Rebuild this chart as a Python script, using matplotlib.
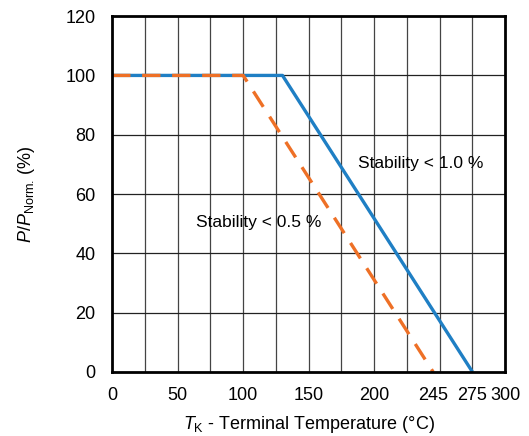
import matplotlib.pyplot as plt

plt.rcParams['font.family'] = ['Liberation Sans', 'DejaVu Sans']
plt.rcParams['mathtext.fontset'] = 'custom'
plt.rcParams['mathtext.rm'] = 'Liberation Sans'
plt.rcParams['mathtext.it'] = 'Liberation Sans:italic'

# derating curves
temp_10 = [0, 130, 275]
power_10 = [100, 100, 0]
temp_05 = [0, 100, 245]
power_05 = [100, 100, 0]

xticks = [0, 50, 100, 150, 200, 245, 275, 300]
yticks = [0, 20, 40, 60, 80, 100, 120]
xgrid = list(range(25, 300, 25))

fig = plt.figure(figsize=(5.29, 4.36), dpi=100)
ax = fig.add_axes([0.212, 0.147, 0.743, 0.816])

for x in xgrid:
    ax.axvline(x, color='#444444', lw=0.9, zorder=1)
for y in yticks[1:-1]:
    ax.axhline(y, color='#222222', lw=0.9, zorder=1)

ax.plot(temp_10, power_10, color='#1f7fc4', lw=2.4, zorder=3, solid_capstyle='butt')
ax.plot(temp_05, power_05, color='#ee7026', lw=2.4, zorder=4,
        dashes=(5.5, 3.5), dash_capstyle='butt')

ax.text(188, 70.4, 'Stability < 1.0 %', fontsize=12.5, va='center', ha='left')
ax.text(64, 50.5, 'Stability < 0.5 %', fontsize=12.5, va='center', ha='left')

ax.set_xlim(0, 300)
ax.set_ylim(0, 120)
ax.set_xticks(xticks)
ax.set_yticks(yticks)
ax.tick_params(axis='both', length=0, labelsize=13)
ax.tick_params(axis='x', pad=11)
ax.tick_params(axis='y', pad=12)
for s in ax.spines.values():
    s.set_linewidth(2)
    s.set_zorder(5)

ax.set_xlabel(r'$T_{\mathrm{K}}$ - Terminal Temperature (°C)', fontsize=13, labelpad=7)
ax.set_ylabel(r'$P/P_{\mathrm{Norm.}}\,$(%)', fontsize=13, labelpad=20)

fig.savefig('out.png', dpi=100)
